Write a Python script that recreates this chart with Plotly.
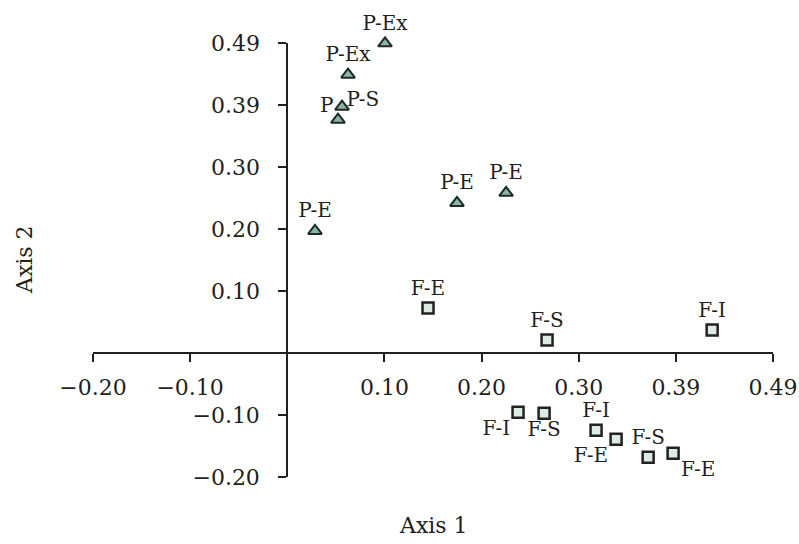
import plotly.graph_objects as go

# ---- data ----
STEP = 0.0985  # tick spacing of the original axes
tick_vals_x = [-2 * STEP, -1 * STEP, 1 * STEP, 2 * STEP, 3 * STEP, 4 * STEP, 5 * STEP]
tick_text_x = ["\u22120.20", "\u22120.10", "0.10", "0.20", "0.30", "0.39", "0.49"]
tick_vals_y = [-2 * STEP, -1 * STEP, 1 * STEP, 2 * STEP, 3 * STEP, 4 * STEP, 5 * STEP]
tick_text_y = ["\u22120.20", "\u22120.10", "0.10", "0.20", "0.30", "0.39", "0.49"]

p_x = [0.0991, 0.0616, 0.0555, 0.0514, 0.0281, 0.1721, 0.2219]
p_y = [0.4920, 0.4422, 0.3913, 0.3706, 0.1940, 0.2385, 0.2544]
p_labels = ["P-Ex", "P-Ex", "P", "P-S", "P-E", "P-E", "P-E"]
p_pos = ["top center", "top center", "middle left", "top right", "top center", "top center", "top center"]

f_x = [0.1427, 0.2634, 0.4308, 0.2340, 0.2604, 0.3131, 0.3334, 0.3659, 0.3912]
f_y = [0.0714, 0.0205, 0.0364, -0.0940, -0.0956, -0.1227, -0.1370, -0.1657, -0.1593]
f_labels = ["F-E", "F-S", "F-I", "F-I", "F-S", "F-I", "F-E", "F-S", "F-E"]
f_pos = ["top center", "top center", "top center", "bottom left", "bottom center",
         "top center", "bottom left", "top center", "bottom right"]

FONT = "DejaVu Serif"
INK = "#231f20"

x_range = [-2 * STEP, 5 * STEP]
y_range = [-2 * STEP, 5 * STEP]

fig = go.Figure()
fig.add_trace(go.Scatter(
    x=p_x, y=p_y, mode="markers+text", text=p_labels, textposition=p_pos,
    marker=dict(symbol="triangle-up", size=12, color="#8db5a5",
                line=dict(color="#1c2b25", width=2)),
    textfont=dict(family=FONT, size=20, color=INK), cliponaxis=False,
    showlegend=False,
))
fig.add_trace(go.Scatter(
    x=f_x, y=f_y, mode="markers+text", text=f_labels, textposition=f_pos,
    marker=dict(symbol="square", size=11, color="#dcece2",
                line=dict(color="#222222", width=2.5)),
    textfont=dict(family=FONT, size=20, color=INK), cliponaxis=False,
    showlegend=False,
))

x_pos = (0 - y_range[0]) / (y_range[1] - y_range[0])
y_pos = (0 - x_range[0]) / (x_range[1] - x_range[0])

W, H = 799, 544
ML, MR, MT, MB = 93, 26, 43, 67
plot_w = W - ML - MR
plot_h = H - MT - MB

fig.update_layout(
    width=W, height=H,
    margin=dict(l=ML, r=MR, t=MT, b=MB, autoexpand=False),
    paper_bgcolor="white", plot_bgcolor="white",
    font=dict(family=FONT, size=22, color=INK),
    xaxis=dict(range=x_range, anchor="free", position=x_pos, automargin=False,
               tickvals=tick_vals_x, ticktext=tick_text_x,
               showline=True, linecolor=INK, linewidth=2,
               ticks="outside", ticklen=8, tickwidth=2, tickcolor=INK,
               ticklabelstandoff=7,
               showgrid=False, zeroline=False,
               tickfont=dict(family=FONT, size=22, color=INK)),
    yaxis=dict(range=y_range, anchor="free", position=y_pos, automargin=False,
               tickvals=tick_vals_y, ticktext=tick_text_y,
               showline=True, linecolor=INK, linewidth=2,
               ticks="outside", ticklen=8, tickwidth=2, tickcolor=INK,
               ticklabelstandoff=14,
               showgrid=False, zeroline=False,
               tickfont=dict(family=FONT, size=22, color=INK)),
    annotations=[
        dict(text="Axis 1", x=0.5, y=(H - MB - 525) / plot_h, xref="paper", yref="paper",
             xanchor="center", yanchor="middle",
             showarrow=False, font=dict(family=FONT, size=22, color=INK)),
        dict(text="Axis 2", x=(24 - ML) / plot_w, y=0.5, xref="paper", yref="paper",
             xanchor="center", yanchor="middle",
             showarrow=False, textangle=-90, font=dict(family=FONT, size=22, color=INK)),
    ],
)

fig.write_html(
    "out.html",
    config={"displayModeBar": False},
    post_script="document.documentElement.style.margin='0';"
                "document.body.style.margin='0';"
                "document.body.style.overflow='hidden';",
)
